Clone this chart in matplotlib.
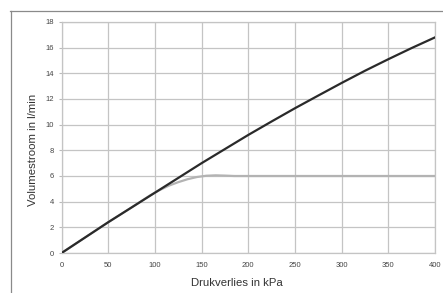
import matplotlib
matplotlib.use("Agg")
import matplotlib.pyplot as plt
from matplotlib.lines import Line2D

plt.rcParams['font.family'] = ['Liberation Sans', 'DejaVu Sans']

# black curve: total volume flow
x_black = [0, 25, 50, 75, 100, 125, 150, 175, 200, 225, 250, 275, 300, 325, 350, 375, 400]
y_black = [0, 1.2, 2.4, 3.55, 4.7, 5.85, 7.0, 8.1, 9.2, 10.25, 11.28, 12.27, 13.25, 14.2, 15.1, 15.97, 16.8]

# grey curve: limited flow
x_grey = [0, 25, 50, 75, 95, 105, 115, 125, 135, 145, 155, 165, 175, 185, 200, 300, 400]
y_grey = [0, 1.2, 2.4, 3.55, 4.5, 4.9, 5.25, 5.52, 5.75, 5.92, 6.02, 6.05, 6.03, 6.0, 6.0, 6.0, 6.0]

xticks = [0, 50, 100, 150, 200, 250, 300, 350, 400]
yticks = [0, 2, 4, 6, 8, 10, 12, 14, 16, 18]

fig = plt.figure(figsize=(4.43, 2.93), dpi=100)
ax = fig.add_axes([0.139, 0.1365, 0.843, 0.7885])

ax.plot(x_grey, y_grey, color='#b3b3b3', lw=1.6, zorder=3)
ax.plot(x_black, y_black, color='#2a2a2a', lw=1.6, zorder=4)

ax.set_xlim(0, 400)
ax.set_ylim(0, 18)
ax.set_xticks(xticks)
ax.set_yticks(yticks)
ax.grid(True, color='#c4c4c4', lw=0.9)
for s in ax.spines.values():
    s.set_color('#c4c4c4')
    s.set_linewidth(0.9)
ax.tick_params(axis='x', length=0, labelsize=5.5, labelcolor='#444444', pad=6.5)
ax.tick_params(axis='y', length=2, width=0.8, color='#bbbbbb',
               labelsize=5.5, labelcolor='#444444', pad=3.5)

ax.set_xlabel('Drukverlies in kPa', fontsize=8.2, color='#333333')
ax.set_ylabel('Volumestroom in l/min', fontsize=8.2, color='#333333')
ax.xaxis.label.set_va('center')
ax.xaxis.set_label_coords(0.47, -0.13)
ax.yaxis.label.set_va('center')
ax.yaxis.label.set_ha('center')
ax.yaxis.set_label_coords(-0.076, 0.446)

# outer frame (top and left)
fig.add_artist(Line2D([10 / 443, 1], [1 - 11 / 293, 1 - 11 / 293], color='#8a8a8a', lw=0.9))
fig.add_artist(Line2D([11 / 443, 11 / 443], [0, 1 - 11 / 293], color='#8a8a8a', lw=0.9))

fig.savefig('out.png', dpi=100)
